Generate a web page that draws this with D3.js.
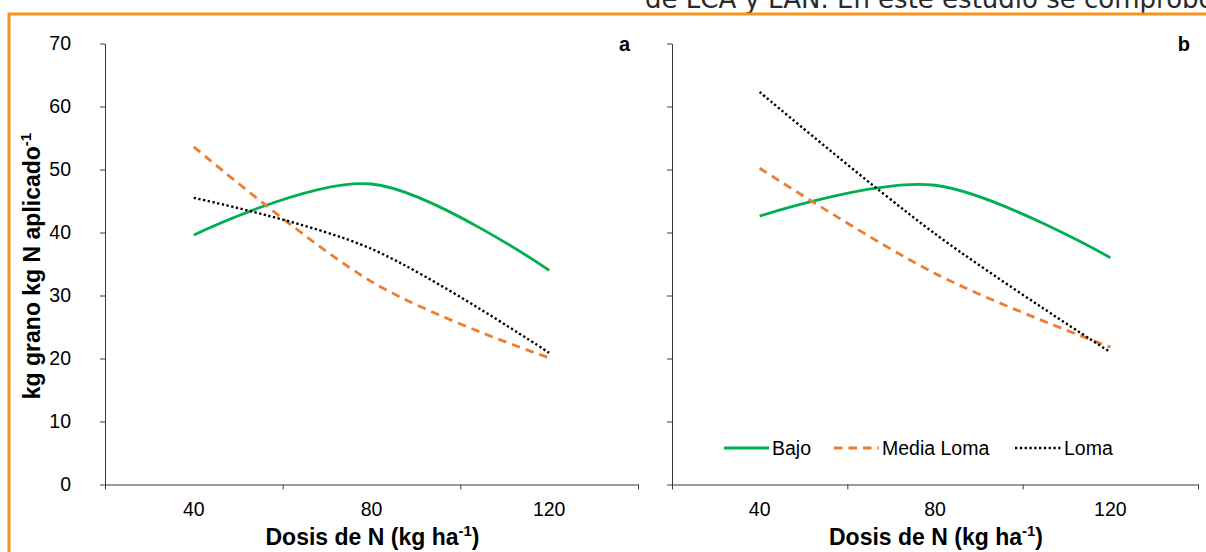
<!DOCTYPE html>
<html><head><meta charset="utf-8">
<script src="https://cdn.jsdelivr.net/npm/d3@7"></script>
<style>
html,body{margin:0;padding:0;background:#fff;overflow:hidden;}
svg{display:block;}
</style></head>
<body>
<svg id="chart" width="1206" height="552"></svg>
<script>
// ---- data ----
const categories = ["40", "80", "120"];
const yTicks = [0, 10, 20, 30, 40, 50, 60, 70];
const seriesNames = ["Bajo", "Media Loma", "Loma"];
const panelA_Bajo = [39.6, 47.7, 34.0];
const panelA_MediaLoma = [53.6, 32.2, 20.1];
const panelA_Loma = [45.5, 37.4, 20.9];
const panelB_Bajo = [42.6, 47.5, 36.0];
const panelB_MediaLoma = [50.2, 33.5, 21.8];
const panelB_Loma = [62.3, 39.8, 21.0];
const panelLabels = ["a", "b"];
const yTitle = "kg grano kg N aplicado";
const xTitle = "Dosis de N (kg ha";
const topText = "de LCA y LAN. En este estudio se comprobó";

// ---- styles ----
const colors = {"Bajo": "#00B050", "Media Loma": "#ED7D31", "Loma": "#000000"};
const dashes = {"Bajo": null, "Media Loma": "8.5,6", "Loma": "2.3,2.5"};
const widths = {"Bajo": 2.8, "Media Loma": 2.8, "Loma": 2.4};
const axisColor = "#3a3a3a";
const font = "'Liberation Sans', Arial, sans-serif";

const svg = d3.select("#chart");

// orange frame + text of the page above it (cut off at the top, as in the source)
svg.append("text").attr("x", 645).attr("y", 8)
  .attr("font-family", "'DejaVu Sans', sans-serif").attr("font-size", 26)
  .attr("fill", "#2a2a2a").text(topText);
svg.append("path").attr("d", "M9,553 V14 H1210")
  .attr("fill", "none").attr("stroke", "#F7941D").attr("stroke-width", 3);

const y = d3.scaleLinear().domain([0, 70]).range([484.5, 43.5]);

const panels = [
  {x0: 105, x1: 638, data: [panelA_Bajo, panelA_MediaLoma, panelA_Loma], label: panelLabels[0], showY: true},
  {x0: 672, x1: 1198, data: [panelB_Bajo, panelB_MediaLoma, panelB_Loma], label: panelLabels[1], showY: false}
];

panels.forEach((p, pi) => {
  const g = svg.append("g");
  const x = d3.scaleLinear().domain([0, categories.length]).range([p.x0, p.x1]);

  // x axis
  const xa = g.append("g").attr("transform", `translate(0,${y(0)})`)
    .call(d3.axisBottom(x).tickValues(d3.range(categories.length + 1)).tickFormat("").tickSize(5).tickSizeOuter(0));
  xa.select(".domain").attr("stroke", axisColor);
  xa.selectAll(".tick line").attr("stroke", axisColor);

  // y axis
  const ya = g.append("g").attr("transform", `translate(${p.x0},0)`)
    .call(d3.axisLeft(y).tickValues(yTicks).tickSize(5).tickSizeOuter(0).tickFormat(p.showY ? d3.format("d") : ""));
  ya.select(".domain").attr("stroke", axisColor);
  ya.selectAll(".tick line").attr("stroke", axisColor);
  ya.selectAll(".tick text").attr("x", -34).attr("font-size", 19.5).attr("font-family", font).attr("fill", "#000");

  // category labels
  g.selectAll(".cat").data(categories).enter().append("text")
    .attr("x", (d, i) => x(i + 0.5)).attr("y", 516)
    .attr("text-anchor", "middle").attr("font-family", font).attr("font-size", 19.5)
    .text(d => d);

  // x title
  const xt = g.append("text").attr("x", (p.x0 + p.x1) / 2 + 1).attr("y", 545)
    .attr("text-anchor", "middle").attr("font-family", font).attr("font-size", 23).attr("font-weight", "bold");
  xt.append("tspan").text(xTitle);
  xt.append("tspan").attr("dy", -9).attr("font-size", 15).text("-1");
  xt.append("tspan").attr("dy", 9).text(")");

  // panel label
  g.append("text").attr("x", p.x1 - 8).attr("y", 51).attr("text-anchor", "end")
    .attr("font-family", font).attr("font-size", 20).attr("font-weight", "bold").text(p.label);

  // lines
  const line = d3.line().x((d, i) => x(i + 0.5)).y(d => y(d)).curve(d3.curveCardinal.tension(0));
  p.data.forEach((vals, si) => {
    const name = seriesNames[si];
    g.append("path").datum(vals).attr("d", line)
      .attr("fill", "none").attr("stroke", colors[name]).attr("stroke-width", widths[name])
      .attr("stroke-dasharray", dashes[name]);
  });
});

// y title
const yt = svg.append("text").attr("transform", "translate(40,266) rotate(-90)")
  .attr("text-anchor", "middle").attr("font-family", font).attr("font-size", 23).attr("font-weight", "bold");
yt.append("tspan").text(yTitle);
yt.append("tspan").attr("dy", -9).attr("font-size", 15).text("-1");

// legend (in panel b)
const legendItems = [
  {name: seriesNames[0], x0: 724, x1: 769, tx: 772},
  {name: seriesNames[1], x0: 834, x1: 879, tx: 882},
  {name: seriesNames[2], x0: 1015, x1: 1061, tx: 1064}
];
const lg = svg.append("g");
legendItems.forEach(it => {
  lg.append("line").attr("x1", it.x0).attr("x2", it.x1).attr("y1", 448).attr("y2", 448)
    .attr("stroke", colors[it.name]).attr("stroke-width", widths[it.name])
    .attr("stroke-dasharray", dashes[it.name]);
  lg.append("text").attr("x", it.tx).attr("y", 455).attr("font-family", font).attr("font-size", 19.5).text(it.name);
});
</script>
</body></html>
